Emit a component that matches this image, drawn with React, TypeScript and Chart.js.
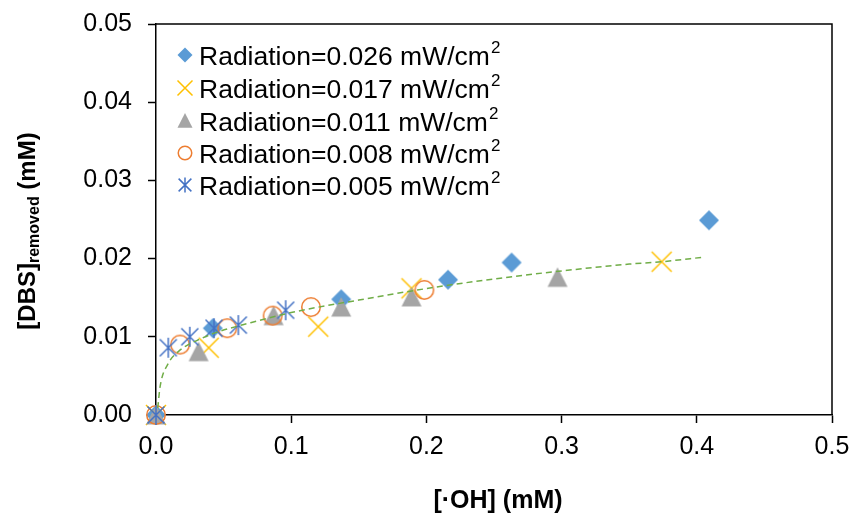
import React, { useEffect, useRef } from 'react';
import { Chart, registerables } from 'chart.js';

Chart.register(...registerables);

// ---- data ----
const xTicks = [0, 0.1, 0.2, 0.3, 0.4, 0.5];
const yTicks = [0, 0.01, 0.02, 0.03, 0.04, 0.05];

const seriesLabels = [
  'Radiation=0.026 mW/cm',
  'Radiation=0.017 mW/cm',
  'Radiation=0.011 mW/cm',
  'Radiation=0.008 mW/cm',
  'Radiation=0.005 mW/cm',
];
const labelSup = '2';

const x026 = [0, 0.042, 0.137, 0.216, 0.263, 0.409];
const y026 = [0, 0.0111, 0.0148, 0.0173, 0.0195, 0.0249];
const x017 = [0, 0.039, 0.12, 0.189, 0.374];
const y017 = [0, 0.0086, 0.0113, 0.0162, 0.0196];
const x011 = [0, 0.0315, 0.087, 0.137, 0.189, 0.297];
const y011 = [0, 0.0081, 0.0127, 0.0138, 0.0151, 0.0176];
const x008 = [0, 0.0178, 0.0527, 0.0863, 0.1146, 0.1985];
const y008 = [0, 0.009, 0.0111, 0.0127, 0.0138, 0.016];
const x005 = [0, 0.0091, 0.025, 0.0429, 0.0609, 0.0959];
const y005 = [0, 0.0086, 0.01, 0.0111, 0.0115, 0.0134];

const trendX = [0.0013, 0.003, 0.0091, 0.0165, 0.0239, 0.0325, 0.0436, 0.07, 0.1, 0.15, 0.205, 0.25, 0.304, 0.35, 0.374, 0.406];
const trendY = [0.0009, 0.0036, 0.0066, 0.0081, 0.009, 0.0097, 0.0105, 0.0118, 0.0131, 0.0147, 0.0163, 0.0174, 0.0185, 0.0193, 0.0196, 0.0202];

const xTitle = '[·OH] (mM)';
const yTitleMain = '[DBS]';
const yTitleSub = 'removed';
const yTitleEnd = ' (mM)';

// ---- styles ----
const FONT = '"Liberation Sans", Arial, sans-serif';
const kinds = ['diamond', 'x', 'triangle', 'circle', 'asterisk'];
const colors = ['#5B9BD5', '#FFC000', '#A5A5A5', '#ED7D31', '#4472C4'];

function drawMarker(ctx: CanvasRenderingContext2D, kind: string, color: string, cx: number, cy: number, s: number) {
  ctx.save();
  ctx.fillStyle = color;
  ctx.strokeStyle = color;
  ctx.lineWidth = 1.5;
  ctx.beginPath();
  if (kind === 'diamond') {
    ctx.moveTo(cx, cy - s);
    ctx.lineTo(cx + s, cy);
    ctx.lineTo(cx, cy + s);
    ctx.lineTo(cx - s, cy);
    ctx.closePath();
    ctx.fill();
  } else if (kind === 'triangle') {
    ctx.moveTo(cx, cy - s);
    ctx.lineTo(cx + s, cy + s * 0.95);
    ctx.lineTo(cx - s, cy + s * 0.95);
    ctx.closePath();
    ctx.fill();
  } else if (kind === 'x') {
    ctx.moveTo(cx - s, cy - s);
    ctx.lineTo(cx + s, cy + s);
    ctx.moveTo(cx - s, cy + s);
    ctx.lineTo(cx + s, cy - s);
    ctx.stroke();
  } else if (kind === 'circle') {
    ctx.arc(cx, cy, s - 0.75, 0, Math.PI * 2);
    ctx.stroke();
  } else if (kind === 'asterisk') {
    const d = s * 0.85;
    ctx.moveTo(cx, cy - s);
    ctx.lineTo(cx, cy + s);
    ctx.moveTo(cx - d, cy - d);
    ctx.lineTo(cx + d, cy + d);
    ctx.moveTo(cx - d, cy + d);
    ctx.lineTo(cx + d, cy - d);
    ctx.stroke();
  }
  ctx.restore();
}

function makeMarkerImage(kind: string, color: string, s: number) {
  const c = document.createElement('canvas');
  const size = Math.ceil(2 * s + 4);
  c.width = size;
  c.height = size;
  const ctx = c.getContext('2d')!;
  drawMarker(ctx, kind, color, size / 2, size / 2, s);
  return c;
}

const decorPlugin = {
  id: 'decor',
  afterDraw(chart: any) {
    const { ctx, chartArea } = chart;
    ctx.save();
    // frame top + right
    ctx.strokeStyle = '#000';
    ctx.lineWidth = 1.5;
    ctx.beginPath();
    ctx.moveTo(chartArea.left, chartArea.top);
    ctx.lineTo(chartArea.right, chartArea.top);
    ctx.lineTo(chartArea.right, chartArea.bottom);
    ctx.stroke();

    // x title
    ctx.fillStyle = '#000';
    ctx.font = `bold 25px ${FONT}`;
    ctx.textAlign = 'center';
    ctx.textBaseline = 'middle';
    ctx.fillText(xTitle, 498, 501);

    // y title with subscript
    const mainFont = `bold 24px ${FONT}`;
    const subFont = `bold 16px ${FONT}`;
    ctx.font = mainFont;
    const w1 = ctx.measureText(yTitleMain).width;
    const w3 = ctx.measureText(yTitleEnd).width;
    ctx.font = subFont;
    const w2 = ctx.measureText(yTitleSub).width;
    const W = w1 + w2 + w3;
    ctx.translate(35, 231);
    ctx.rotate(-Math.PI / 2);
    ctx.textAlign = 'left';
    ctx.textBaseline = 'alphabetic';
    let px = -W / 2;
    ctx.font = mainFont;
    ctx.fillText(yTitleMain, px, 0);
    px += w1;
    ctx.font = subFont;
    ctx.fillText(yTitleSub, px, 4);
    px += w2;
    ctx.font = mainFont;
    ctx.fillText(yTitleEnd, px, 0);
    ctx.restore();

    // legend
    ctx.save();
    const rowY = [55, 88, 120.5, 153, 185];
    for (let i = 0; i < seriesLabels.length; i++) {
      const cy = rowY[i];
      drawMarker(ctx, kinds[i], colors[i], 185, cy, 7.5);
      ctx.fillStyle = '#000';
      ctx.font = `26.5px ${FONT}`;
      ctx.textAlign = 'left';
      ctx.textBaseline = 'alphabetic';
      const base = cy + 10;
      ctx.fillText(seriesLabels[i], 199, base);
      const tw = ctx.measureText(seriesLabels[i]).width;
      ctx.font = `17px ${FONT}`;
      ctx.fillText(labelSup, 199 + tw + 1, base - 12);
    }
    ctx.restore();
  },
};

function toPoints(xs: number[], ys: number[]) {
  return xs.map((x, i) => ({ x, y: ys[i] }));
}

export default function App() {
  const ref = useRef<HTMLCanvasElement | null>(null);

  useEffect(() => {
    document.body.style.margin = '0';
    const canvas = ref.current;
    if (!canvas) return;

    const seriesX = [x026, x017, x011, x008, x005];
    const seriesY = [y026, y017, y011, y008, y005];

    const markerDatasets = seriesX.map((xs, i) => ({
      type: 'scatter' as const,
      label: seriesLabels[i] + labelSup,
      data: toPoints(xs, seriesY[i]),
      pointStyle: makeMarkerImage(kinds[i], colors[i], 10),
      pointRadius: 10,
      showLine: false,
      clip: false,
      order: 10 - i,
    }));

    const trendDataset = {
      type: 'scatter' as const,
      label: 'trend',
      data: toPoints(trendX, trendY),
      showLine: true,
      borderColor: '#70AD47',
      borderWidth: 1.5,
      borderDash: [6, 4],
      pointRadius: 0,
      cubicInterpolationMode: 'monotone',
      clip: false,
      order: 0,
    };

    const tickFont = { family: FONT, size: 25 };

    const chart = new Chart(canvas, {
      type: 'scatter',
      data: { datasets: [...markerDatasets, trendDataset] as any },
      options: {
        responsive: false,
        animation: false,
        devicePixelRatio: 1,
        layout: { padding: { top: 24, right: 22, left: 0, bottom: 0 } },
        plugins: { legend: { display: false }, tooltip: { enabled: false } },
        events: [],
        scales: {
          x: {
            type: 'linear',
            min: 0,
            max: 0.5,
            afterBuildTicks: (scale: any) => {
              scale.ticks = xTicks.map((v) => ({ value: v }));
            },
            afterFit: (scale: any) => {
              scale.height = 103;
              scale.paddingLeft = 0;
              scale.paddingRight = 0;
            },
            ticks: {
              font: tickFont,
              color: '#000',
              padding: 9,
              maxRotation: 0,
              autoSkip: false,
              callback: (v: any) => Number(v).toFixed(1),
            },
            grid: {
              display: true,
              drawOnChartArea: false,
              drawTicks: true,
              tickLength: 8,
              tickWidth: 1.5,
              tickColor: '#000',
              color: '#000',
            },
            border: { display: true, color: '#000', width: 1.5 },
          },
          y: {
            type: 'linear',
            min: 0,
            max: 0.05,
            afterBuildTicks: (scale: any) => {
              scale.ticks = yTicks.map((v) => ({ value: v }));
            },
            afterFit: (scale: any) => {
              scale.width = 156;
              scale.paddingTop = 0;
              scale.paddingBottom = 0;
            },
            ticks: {
              font: tickFont,
              color: '#000',
              padding: 16,
              autoSkip: false,
              callback: (v: any) => Number(v).toFixed(2),
            },
            grid: {
              display: true,
              drawOnChartArea: false,
              drawTicks: true,
              tickLength: 8,
              tickWidth: 1.5,
              tickColor: '#000',
              color: '#000',
            },
            border: { display: true, color: '#000', width: 1.5 },
          },
        },
      } as any,
      plugins: [decorPlugin],
    });

    return () => chart.destroy();
  }, []);

  return (
    <div style={{ width: 854, height: 518 }}>
      <canvas ref={ref} width={854} height={518} style={{ display: 'block' }} />
    </div>
  );
}
